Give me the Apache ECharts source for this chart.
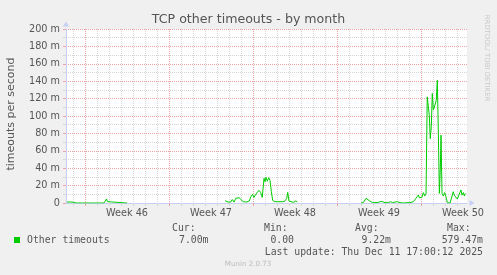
<!DOCTYPE html>
<html><head><meta charset="utf-8">
<script src="https://cdn.jsdelivr.net/npm/echarts@6/dist/echarts.min.js"></script>
<style>html,body{margin:0;padding:0;background:#F0F0F0}#c{width:497px;height:275px}</style>
</head><body><div id="c"></div>
<script>
// time in days since Monday 2025-11-10 00:00 (start of week 46)
const dayOffsets = [
  -1.5, -1.25, -0.92, -0.75, 0.5, 1.58, 1.71, 1.79, 1.88, 2.0, 3.5, 3.6,
  11.67, 11.81, 11.94, 12.14, 12.27, 12.42, 12.56, 12.69, 12.86, 13.0, 13.19, 13.47,
  13.69, 13.81, 13.97, 14.08, 14.31, 14.5, 14.64, 14.77, 14.92, 15.0, 15.08, 15.19,
  15.31, 15.42, 15.53, 15.64, 15.83, 15.97, 16.17, 16.31, 16.47, 16.64, 16.81, 16.89,
  17.0, 17.14, 17.36, 17.56, 17.69, 17.8,
  23.0, 23.19, 23.42, 23.56, 23.69, 23.83, 23.97, 24.11, 24.25, 24.44, 24.58, 24.72,
  24.86, 25.0, 25.28, 25.47, 25.64, 25.83, 26.03, 26.25, 26.53, 26.81, 27.08, 27.36,
  27.58, 27.78, 27.86, 27.97, 28.08, 28.19, 28.31, 28.42, 28.52, 28.61, 28.69, 28.77,
  28.86, 28.94, 29.03, 29.11, 29.19, 29.27, 29.36, 29.44, 29.53, 29.61, 29.67, 29.75,
  29.86, 29.97, 30.08, 30.19, 30.42, 30.58, 30.69, 30.77, 30.92, 31.03, 31.19, 31.33,
  31.42, 31.53, 31.61, 31.69
];
// timeouts per second, in milli units
const timeoutsMilli = [
  1, 1.2, 0.8, 0, 0, 0, 2, 4.6, 1.5, 0, 0, null,
  2.6, 3.7, 1.1, 1, 4, 1, 5.4, 4.6, 6.1, 3.8, 1.5, 1.2,
  2.3, 6.9, 10, 6.5, 11.5, 14.6, 12, 6.5, 28.4, 24.5, 29.5, 25,
  29, 26, 13, 3, 1.5, 2.3, 1.5, 2.3, 1.5, 2, 5.4, 12.3,
  2.3, 1.5, 0.8, 2.3, 1.2, null,
  0, 0.5, 5.4, 3.4, 2.7, 1.1, 0.4, 1.1, 0.4, 0.8, 1.1, 1.9,
  2.7, 0.4, 0.4, 1.5, 0.4, 1.1, 1.5, 0.4, 0, 0.4, 0.4, 1.5,
  5.4, 9.2, 6, 8, 6.5, 11.9, 8, 11, 122, 123, 101, 74,
  88, 126, 107, 110, 108, 118, 141, 84, 11, 40, 78, 11,
  8, 12, 7.3, 0.4, 0, 0.4, 13, 9, 7.3, 4.6, 5.4, 15,
  9, 12, 8, 11
];
const weekLabels = ['Week 46', 'Week 47', 'Week 48', 'Week 49', 'Week 50'];
const weekLabelDays = [3.5, 10.5, 17.5, 24.5, 31.5];
const weekStartDays = [0, 7, 14, 21, 28];
const statHeaders = ['Cur:', 'Min:', 'Avg:', 'Max:'];
const statValues = ['7.00m', '0.00', '9.22m', '579.47m'];
const seriesName = 'Other timeouts';
const lastUpdate = 'Last update: Thu Dec 11 17:00:12 2025';

const X_MIN = -1.583, X_MAX = 31.833;
const dayGrid = [];
for (let d = -1; d <= 31; d++) if (d % 7 !== 0) dayGrid.push(d);

const AXIS = '#C6CEF6', MGRID = '#EBA3A3', GRID = '#D6D6D6';
const FONT = '#555555';
const SANS = 'DejaVu Sans', MONO = 'DejaVu Sans Mono';

const chart = echarts.init(document.getElementById('c'), null, {renderer: 'canvas'});
const data = dayOffsets.map((d, i) => [d, timeoutsMilli[i]]);

const statHeaderX = [172, 264, 355, 447];
const statValueRight = [208.5, 294, 391, 483];
const graphics = [
  {type: 'text', x: 11, y: 114, rotation: Math.PI / 2,
   style: {text: 'timeouts per second', font: '11px ' + SANS, fill: FONT, align: 'center', verticalAlign: 'middle'}},
  {type: 'text', x: 487, y: 58, rotation: -Math.PI / 2,
   style: {text: 'RRDTOOL/ TOBI OETIKER', font: '6.9px ' + SANS, fill: '#C8C8C8', align: 'center', verticalAlign: 'middle'}},
  {type: 'rect', shape: {x: 14, y: 237, width: 6, height: 6}, style: {fill: '#00CC00'}},
  {type: 'text', x: 27, y: 240, style: {text: seriesName, font: '9.8px ' + MONO, fill: FONT, verticalAlign: 'middle'}},
  {type: 'text', x: 483, y: 252, style: {text: lastUpdate, font: '9.8px ' + MONO, fill: FONT, align: 'right', verticalAlign: 'middle'}},
  {type: 'text', x: 248, y: 264, style: {text: 'Munin 2.0.73', font: '7.1px ' + SANS, fill: '#BBBBBB', align: 'center', verticalAlign: 'middle'}}
];
statHeaders.forEach((h, i) => graphics.push({type: 'text', x: statHeaderX[i], y: 228,
  style: {text: h, font: '9.8px ' + MONO, fill: FONT, verticalAlign: 'middle'}}));
statValues.forEach((v, i) => graphics.push({type: 'text', x: statValueRight[i], y: 240,
  style: {text: v, font: '9.8px ' + MONO, fill: FONT, align: 'right', verticalAlign: 'middle'}}));

chart.setOption({
  backgroundColor: '#F0F0F0',
  animation: false,
  title: {
    text: 'TCP other timeouts - by month', left: 'center', top: 12, padding: 0,
    textStyle: {fontFamily: SANS, fontSize: 12.6, fontWeight: 'normal', color: FONT, lineHeight: 15}
  },
  grid: {left: 66, top: 29, width: 401, height: 174, show: true, backgroundColor: '#FFFFFF', borderWidth: 0},
  xAxis: [
    {type: 'value', min: X_MIN, max: X_MAX, position: 'bottom',
     axisLine: {show: false, onZero: false},
     axisTick: {show: true, customValues: dayGrid, length: 3, lineStyle: {color: GRID}},
     axisLabel: {show: false},
     splitLine: {show: true, lineStyle: {color: GRID, width: 1, type: [1, 1]}}},
    {type: 'value', min: X_MIN, max: X_MAX, position: 'bottom',
     axisLine: {show: true, onZero: false, lineStyle: {color: AXIS, width: 1},
                symbol: ['none', 'triangle'], symbolSize: [6, 5], symbolOffset: [0, 5]},
     axisTick: {show: true, customValues: weekStartDays, length: 3, lineStyle: {color: MGRID}},
     axisLabel: {show: true, customValues: weekLabelDays, margin: 5, color: FONT,
                 fontFamily: SANS, fontSize: 9.7,
                 formatter: v => weekLabels[weekLabelDays.indexOf(v)] || ''},
     splitLine: {show: true, lineStyle: {color: MGRID, width: 1, type: [1, 1]}}}
  ],
  yAxis: {
    type: 'value', min: 0, max: 200, interval: 20, position: 'left',
    axisLine: {show: true, onZero: false, lineStyle: {color: AXIS, width: 1},
               symbol: ['none', 'triangle'], symbolSize: [6, 5], symbolOffset: [0, 5]},
    axisTick: {show: true, length: 3, lineStyle: {color: MGRID}},
    minorTick: {show: true, splitNumber: 2, length: 3, lineStyle: {color: GRID}},
    axisLabel: {margin: 6, color: FONT, fontFamily: SANS, fontSize: 9.7,
                formatter: v => v === 0 ? '0' : v + ' m'},
    splitLine: {show: true, lineStyle: {color: MGRID, width: 1, type: [1, 1]}},
    minorSplitLine: {show: true, lineStyle: {color: GRID, width: 1, type: [1, 1]}}
  },
  series: [{
    name: seriesName, type: 'line', xAxisIndex: 1, data: data,
    showSymbol: false, connectNulls: false, smooth: false,
    lineStyle: {color: '#00CC00', width: 1}, itemStyle: {color: '#00CC00'}
  }],
  graphic: graphics
});
</script></body></html>
